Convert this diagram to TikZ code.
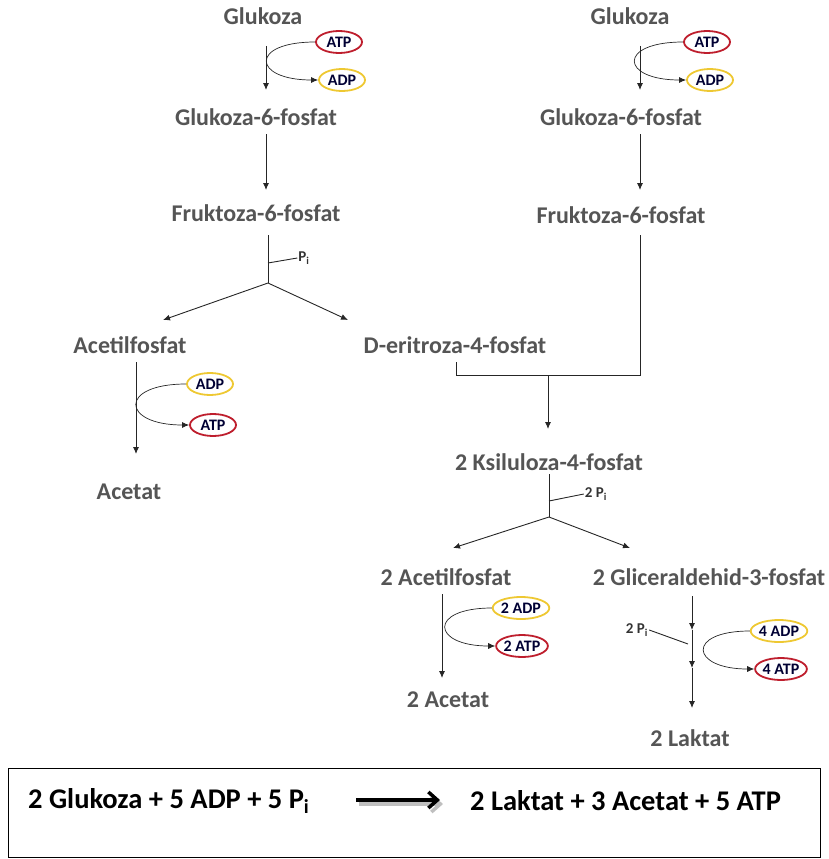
\documentclass[tikz,border=0pt]{standalone}
\usepackage{fontspec}
\setmainfont{Carlito}
\usetikzlibrary{arrows.meta,shapes.geometric}
\definecolor{atpred}{RGB}{190,30,45}
\definecolor{adpyellow}{RGB}{238,200,50}
\definecolor{txtgray}{RGB}{85,85,85}
\tikzset{
  metab/.style={font=\fontsize{24}{26}\selectfont\bfseries, text=txtgray, inner sep=1pt},
  cof/.style={ellipse, line width=1.8pt, inner sep=0pt, minimum width=46pt, minimum height=22pt,
              font=\fontsize{16}{17}\selectfont\bfseries, text=black!80!blue},
  atp/.style={cof, draw=atpred},
  adp/.style={cof, draw=adpyellow},
  pilab/.style={font=\fontsize{15}{16}\selectfont\bfseries, text=black!80, inner sep=1pt},
  flow/.style={-{Latex[length=7pt,width=6pt]}, line width=0.9pt, black!85},
  plain/.style={line width=0.9pt, black!85},
  cofarrow/.style={-{Latex[length=7pt,width=6pt]}, line width=0.7pt, black!85},
  sumtext/.style={font=\fontsize{28.5}{30}\selectfont\bfseries, anchor=west, inner sep=0pt},
  sumarrow/.style={-{Straight Barb[length=9pt,width=16pt]}, line width=3.5pt}
}
\begin{document}
\begin{tikzpicture}[x=1pt,y=-1pt]
\useasboundingbox (0,0) rectangle (828,859);
% left branch
\node[metab] (gluL) at (263,16) {Glukoza};
\node[atp] (atpL1) at (339,42) {ATP};
\node[adp] (adpL1) at (342,80) {ADP};
\node[metab] (g6pL) at (256,117) {Glukoza-6-fosfat};
\node[metab] (f6pL) at (256,213) {Fruktoza-6-fosfat};
\node[pilab] (piL) at (304,258) {P\textsubscript{i}};
\node[metab] (acpL) at (130,345) {Acetilfosfat};
\node[metab] (e4p) at (455,345) {D-eritroza-4-fosfat};
\node[adp] (adpL2) at (210,384) {ADP};
\node[atp] (atpL2) at (213,425) {ATP};
\node[metab] (actL) at (129,492) {Acetat};
\coordinate (jL) at (268,283);
\coordinate (tickL) at (268,263);

\draw[flow] (266,46) -- (266,90);
\draw[cofarrow] (atpL1.west) .. controls +(-66,0) and +(-66,0) .. (adpL1.west);
\draw[flow] (266,134) -- (266,190);
\draw[plain] (268,235) -- (jL);
\draw[plain] (tickL) -- (piL.west);
\draw[flow] (jL) -- (163,320);
\draw[flow] (jL) -- (348,320);
\draw[flow] (136,362) -- (136,454);
\draw[cofarrow] (adpL2.west) .. controls +(-68,0) and +(-68,0) .. (atpL2.west);

% right branch
\node[metab] (gluR) at (630,16) {Glukoza};
\node[atp] (atpR1) at (707,42) {ATP};
\node[adp] (adpR1) at (710,80) {ADP};
\node[metab] (g6pR) at (621,117) {Glukoza-6-fosfat};
\node[metab] (f6pR) at (621,215) {Fruktoza-6-fosfat};
\coordinate (cR) at (640,375);
\coordinate (cE) at (456,375);
\coordinate (cM) at (548,375);
\draw[flow] (640,46) -- (640,90);
\draw[cofarrow] (atpR1.west) .. controls +(-66,0) and +(-66,0) .. (adpR1.west);
\draw[flow] (640,134) -- (640,190);
\draw[plain] (640,235) -- (cR) -- (cE) -- (456,362);
\draw[flow] (cM) -- (548,429);

\node[metab] (x5p) at (549,462) {2 Ksiluloza-4-fosfat};
\node[pilab] (piR) at (596,494) {2 P\textsubscript{i}};
\coordinate (jR) at (549,517);
\coordinate (tickR) at (549,501);
\draw[plain] (549,474) -- (jR);
\draw[plain] (tickR) -- (piR.west);
\draw[flow] (jR) -- (453,548);
\draw[flow] (jR) -- (630,548);

\node[metab] (acpR) at (446,577) {2 Acetilfosfat};
\node[metab] (gap) at (709,577) {2 Gliceraldehid-3-fosfat};
\node[adp] (adpR2) at (521,608) {2 ADP};
\node[atp] (atpR2) at (522,646) {2 ATP};
\node[metab] (actR) at (448,700) {2 Acetat};
\draw[flow] (442,594) -- (442,678);
\draw[cofarrow] (adpR2.west) .. controls +(-64,0) and +(-64,0) .. (atpR2.west);

\node[pilab] (piG) at (637,630) {2 P\textsubscript{i}};
\node[adp] (adpR3) at (779,631) {4 ADP};
\node[atp] (atpR3) at (781,669) {4 ATP};
\node[metab] (lac) at (690,738) {2 Laktat};
\coordinate (g1) at (692,630);
\coordinate (g2) at (692,668);
\draw[flow] (692,596) -- (g1);
\draw[flow] (g1) -- (g2);
\draw[flow] (g2) -- (692,708);
\draw[plain] (piG.east) -- (688,644);
\draw[cofarrow] (adpR3.west) .. controls +(-64,0) and +(-64,0) .. (atpR3.west);

% summary
\node[draw, line width=1.2pt, minimum width=812pt, minimum height=89pt, anchor=north west, inner sep=0pt] (sumbox) at (8,768) {};
\node[sumtext] (lhs) at (28,801) {2 Glukoza + 5 ADP + 5 P\textsubscript{i}};
\node[sumtext] (rhs) at (470,801) {2 Laktat + 3 Acetat + 5 ATP};
\coordinate (arrA) at (356,800);
\coordinate (arrB) at (440,800);
\draw[sumarrow, black!25] ([shift={(3,4)}]arrA) -- ([shift={(3,4)}]arrB);
\draw[sumarrow] (arrA) -- (arrB);
\end{tikzpicture}
\end{document}
